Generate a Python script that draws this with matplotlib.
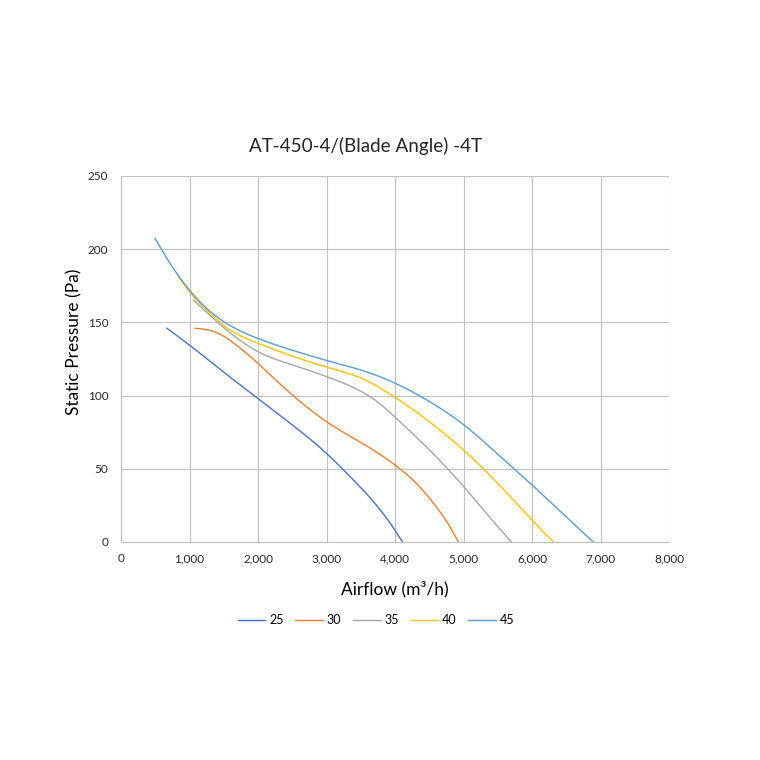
import numpy as np
import matplotlib
matplotlib.use("Agg")
import matplotlib.pyplot as plt

plt.rcParams['font.family'] = ['Lato', 'DejaVu Sans']

labels = ["25", "30", "35", "40", "45"]
colors = ["#4472C4", "#ED7D31", "#A5A5A5", "#FFC000", "#5B9BD5"]

x25 = [670, 1000, 1500, 2000, 2500, 3000, 3400, 3650, 4000, 4110]
y25 = [146, 134.5, 116, 98, 80, 60.5, 42, 29.5, 8, 0]

x30 = [1080, 1300, 1500, 1750, 2000, 2250, 2500, 3000, 3500, 4000, 4365, 4650, 4800, 4925]
y30 = [146, 144.5, 140.5, 132, 122, 111, 100.5, 82.2, 68, 52.6, 37.4, 21, 10.5, 0]

x35 = [1056, 1500, 2000, 2500, 3000, 3500, 3750, 4000, 4500, 5000, 5290, 5500, 5703]
y35 = [165.3, 146.5, 130, 121, 113, 103, 95.5, 85.3, 63, 38, 22, 10.5, 0]

x40 = [830, 1000, 1250, 1500, 2000, 2500, 3000, 3500, 4000, 4500, 5000, 5500, 6000, 6311]
y40 = [182, 171, 158.5, 148, 135.7, 127, 119.5, 112, 98.8, 82.2, 62.8, 40, 15, 0]

x45 = [496, 715, 1000, 1250, 1500, 2000, 2500, 3000, 3500, 4000, 4500, 5000, 5500, 6000, 6400, 6895]
y45 = [207.5, 190.4, 172, 159.6, 150.5, 139, 131, 124, 117.5, 108.5, 96, 80.2, 60, 39, 21.5, 0]

series = [(x25, y25), (x30, y30), (x35, y35), (x40, y40), (x45, y45)]

x_ticks = [0, 1000, 2000, 3000, 4000, 5000, 6000, 7000, 8000]
y_ticks = [0, 50, 100, 150, 200, 250]


def smooth(xs, ys, per=40):
    # natural cubic spline, only for rendering a smooth line through the data points
    x = np.asarray(xs, float)
    y = np.asarray(ys, float)
    n = len(x)
    h = np.diff(x)
    A = np.zeros((n, n))
    b = np.zeros(n)
    A[0, 0] = A[-1, -1] = 1.0
    for i in range(1, n - 1):
        A[i, i - 1] = h[i - 1]
        A[i, i] = 2 * (h[i - 1] + h[i])
        A[i, i + 1] = h[i]
        b[i] = 3 * ((y[i + 1] - y[i]) / h[i] - (y[i] - y[i - 1]) / h[i - 1])
    c = np.linalg.solve(A, b)
    sx, sy = [], []
    for i in range(n - 1):
        bi = (y[i + 1] - y[i]) / h[i] - h[i] * (2 * c[i] + c[i + 1]) / 3
        di = (c[i + 1] - c[i]) / (3 * h[i])
        t = np.linspace(0, h[i], per, endpoint=False)
        sx.append(x[i] + t)
        sy.append(y[i] + bi * t + c[i] * t ** 2 + di * t ** 3)
    sx.append([x[-1]])
    sy.append([y[-1]])
    return np.concatenate(sx), np.concatenate(sy)


W = 760.0
fig = plt.figure(figsize=(7.6, 7.6), dpi=100)
ax = fig.add_axes([121 / W, (W - 542) / W, 548 / W, 366 / W])

for (xs, ys), lab, c in zip(series, labels, colors):
    sx, sy = smooth(xs, ys)
    ax.plot(sx, sy, color=c, lw=1.0, label=lab)

ax.set_xlim(0, 8000)
ax.set_ylim(0, 250)
ax.set_xticks(x_ticks)
ax.set_xticklabels([f"{v:,}" for v in x_ticks])
ax.set_yticks(y_ticks)
ax.grid(True, color="#C0C0C0", lw=0.8)
ax.set_axisbelow(True)
for s in ["top", "right"]:
    ax.spines[s].set_visible(False)
for s in ["left", "bottom"]:
    ax.spines[s].set_color("#BFBFBF")
    ax.spines[s].set_linewidth(0.8)
ax.tick_params(axis="x", length=0, labelsize=8.5, labelcolor="#262626", pad=8)
ax.tick_params(axis="y", length=0, labelsize=8.5, labelcolor="#262626", pad=9)

fig.text(366 / W, (W - 146) / W, "AT-450-4/(Blade Angle) -4T", fontsize=13.6,
         ha="center", va="center", color="#262626")
fig.text(395 / W, (W - 589) / W, "Airflow (m³/h)", fontsize=12.5,
         ha="center", va="center", color="#000000")
fig.text(74 / W, (W - 342) / W, "Static Pressure (Pa)", fontsize=12.5, rotation=90,
         ha="center", va="center", color="#000000")

handles, labs = ax.get_legend_handles_labels()
fig.legend(handles, labs, loc="center", bbox_to_anchor=(376 / W, (W - 620) / W), ncol=5,
           frameon=False, fontsize=9, handlelength=2.2, columnspacing=0.95,
           handletextpad=0.3, borderpad=0)

fig.savefig("out.png", dpi=100, facecolor="white")
